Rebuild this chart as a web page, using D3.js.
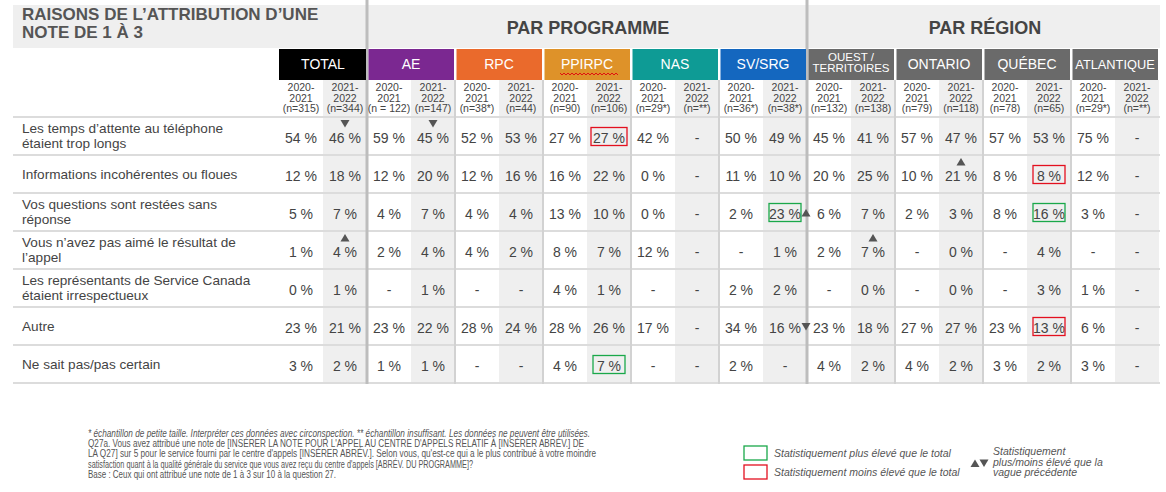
<!DOCTYPE html>
<html><head><meta charset="utf-8">
<script src="https://cdn.jsdelivr.net/npm/d3@7"></script>
<style>
body{margin:0;background:#fff;}
svg{display:block;font-family:"Liberation Sans",Arial,sans-serif;}
</style></head>
<body><svg id="c" width="1166" height="492"></svg>
<script>
const title = ["RAISONS DE L\u2019ATTRIBUTION D\u2019UNE", "NOTE DE 1 À 3"];
const sections = ["PAR PROGRAMME", "PAR RÉGION"];
const groups = ["TOTAL","AE","RPC","PPIRPC","NAS","SV/SRG","OUEST / TERRITOIRES","ONTARIO","QUÉBEC","ATLANTIQUE"];
const groupColors = ["#000000","#7b2891","#ea6a2c","#de9229","#0e9b95","#1467bf","#6a6a6a","#6a6a6a","#6a6a6a","#6a6a6a"];
const years = ["2020-2021","2021-2022"];
const sampleSizes = ["(n=315)","(n=344)","(n = 122)","(n=147)","(n=38*)","(n=44)","(n=90)","(n=106)","(n=29*)","(n=**)",
                     "(n=36*)","(n=38*)","(n=132)","(n=138)","(n=79)","(n=118)","(n=78)","(n=65)","(n=29*)","(n=**)"];
const reasons = [
  ["Les temps d\u2019attente au téléphone","étaient trop longs"],
  ["Informations incohérentes ou floues"],
  ["Vos questions sont restées sans","réponse"],
  ["Vous n\u2019avez pas aimé le résultat de","l\u2019appel"],
  ["Les représentants de Service Canada","étaient irrespectueux"],
  ["Autre"],
  ["Ne sait pas/pas certain"]
];
const row0 = [54,46,59,45,52,53,27,27,42,null,50,49,45,41,57,47,57,53,75,null];
const row1 = [12,18,12,20,12,16,16,22,0,null,11,10,20,25,10,21,8,8,12,null];
const row2 = [5,7,4,7,4,4,13,10,0,null,2,23,6,7,2,3,8,16,3,null];
const row3 = [1,4,2,4,4,2,8,7,12,null,null,1,2,7,null,0,null,4,null,null];
const row4 = [0,1,null,1,null,null,4,1,null,null,2,2,null,0,null,0,null,3,1,null];
const row5 = [23,21,23,22,28,24,28,26,17,null,34,16,23,18,27,27,23,13,6,null];
const row6 = [3,2,1,1,null,null,4,7,null,null,2,null,4,2,4,2,3,2,3,null];
const values = [row0,row1,row2,row3,row4,row5,row6];
// wave-over-wave changes: [row, column, direction, placement]
const changes = [[0,1,"down","above"],[3,1,"up","above"],[0,3,"down","above"],[2,11,"up","right"],
                 [5,11,"down","right"],[1,15,"up","above"],[3,13,"up","above"]];
// vs total: [row, column, type]
const highlights = [[0,7,"low"],[1,17,"low"],[5,17,"low"],[2,11,"high"],[2,17,"high"],[6,7,"high"]];
const footnotes = [
  "* échantillon de petite taille. Interpréter ces données avec circonspection. ** échantillon insuffisant. Les données ne peuvent être utilisées.",
  "Q27a. Vous avez attribué une note de [INSÉRER LA NOTE POUR L'APPEL AU CENTRE D'APPELS RELATIF À [INSÉRER ABRÉV.] DE",
  "LA Q27] sur 5 pour le service fourni par le centre d'appels [INSÉRER ABRÉV.]. Selon vous, qu'est-ce qui a le plus contribué à votre moindre",
  "satisfaction quant à la qualité générale du service que vous avez reçu du centre d'appels [ABRÉV. DU PROGRAMME]?",
  "Base : Ceux qui ont attribué une note de 1 à 3 sur 10 à la question 27."
];
const footWidths = [502,496,508,385,248];
const legendItems = ["Statistiquement plus élevé que le total","Statistiquement moins élevé que le total"];
const legendArrows = ["Statistiquement","plus/moins élevé que la","vague précédente"];

const svg = d3.select("#c");
const X0 = 279, X1 = 1159, LEFT = 13;
const gx = d3.scaleBand().domain(d3.range(groups.length)).range([X0, X1]);
const cx = d3.scaleBand().domain(d3.range(groups.length*2)).range([X0, X1]);
const ry = d3.scaleBand().domain(d3.range(reasons.length)).range([117, 383]);
const TOP = 5, HEAD = 49, SUB = 80, BOT = 383;
const txt = "#444";

// title band
svg.append("rect").attr("x",LEFT).attr("y",TOP).attr("width",X1-LEFT+1).attr("height",HEAD-TOP-1).attr("fill","#efefef");
svg.append("g").selectAll("text").data(title).join("text")
  .attr("x",22).attr("y",(d,i)=>20+i*18).attr("font-size",17).attr("font-weight","bold").attr("fill","#555").text(d=>d);
const secCenters = [(gx(1)+gx(6))/2+1, (gx(6)+X1)/2+2];
svg.append("g").selectAll("text").data(sections).join("text")
  .attr("x",(d,i)=>secCenters[i]).attr("y",34).attr("text-anchor","middle")
  .attr("font-size",18).attr("font-weight","bold").attr("fill","#444").text(d=>d);

// shaded second-year columns
svg.append("g").selectAll("rect").data(d3.range(groups.length)).join("rect")
  .attr("x",i=>cx(i*2+1)).attr("y",SUB).attr("width",cx.bandwidth()).attr("height",BOT-SUB)
  .attr("fill","#efefef");

// horizontal row lines
svg.append("g").selectAll("line").data(d3.range(reasons.length+1)).join("line")
  .attr("x1",LEFT).attr("x2",X1+1)
  .attr("y1",i=>i<reasons.length?ry(i):BOT).attr("y2",i=>i<reasons.length?ry(i):BOT)
  .attr("stroke","#dcdcdc").attr("stroke-width",2);

// vertical group separators
svg.append("g").selectAll("line").data(d3.range(1,groups.length)).join("line")
  .attr("x1",i=>gx(i)).attr("x2",i=>gx(i))
  .attr("y1",i=>(i===1||i===6)?TOP-5:SUB).attr("y2",BOT+1)
  .attr("stroke",i=>(i===1||i===6)?"#bdbdbd":"#d2d2d2")
  .attr("stroke-width",i=>(i===1||i===6)?3:2);

// group header boxes
const hg = svg.append("g").selectAll("g").data(groups).join("g");
hg.append("rect").attr("x",(d,i)=>gx(i)+(i===0?0:1.5)).attr("y",HEAD)
  .attr("width",(d,i)=>gx.bandwidth()-(i===0?1:2.5)).attr("height",SUB-HEAD)
  .attr("fill",(d,i)=>groupColors[i]);
hg.each(function(d,i){
  const g = d3.select(this);
  const c = gx(i)+gx.bandwidth()/2;
  if(d.includes(" / ")){
    const parts = d.split(" / ");
    g.append("text").attr("x",c).attr("y",61).attr("text-anchor","middle").attr("font-size",11.5).attr("fill","#fff").text(parts[0]+" /");
    g.append("text").attr("x",c).attr("y",72).attr("text-anchor","middle").attr("font-size",11.5).attr("fill","#fff").text(parts[1]);
  } else {
    g.append("text").attr("x",c).attr("y",69).attr("text-anchor","middle")
      .attr("font-size",d.length>8?12.8:14).attr("fill","#fff").text(d);
  }
  if(d==="PPIRPC"){
    const p = d3.path(); const x0 = c-27, x1 = c+31;
    p.moveTo(x0,73);
    for(let x=x0, k=0; x<x1; x+=2, k++){ p.lineTo(x+2, k%2? 73 : 75); }
    g.append("path").attr("d",p.toString()).attr("fill","none").attr("stroke","#e01010").attr("stroke-width",1);
  }
});

// year / sample subheaders
const sh = svg.append("g").selectAll("g").data(d3.range(groups.length*2)).join("g");
sh.each(function(j){
  const g = d3.select(this);
  const c = cx(j)+cx.bandwidth()/2;
  const yr = years[j%2].split("-");
  [yr[0]+"-", yr[1], sampleSizes[j]].forEach((t,k)=>{
    g.append("text").attr("x",c).attr("y",91+k*10.5).attr("text-anchor","middle")
      .attr("font-size",10.5).attr("fill",txt).text(t);
  });
});

// row labels
const rl = svg.append("g").selectAll("g").data(reasons).join("g");
rl.each(function(lines,i){
  const mid = ry(i)+ry.bandwidth()/2;
  const n = lines.length;
  d3.select(this).selectAll("text").data(lines).join("text")
    .attr("x",22).attr("y",(d,k)=>mid+4.5+(k-(n-1)/2)*15)
    .attr("font-size",13.6).attr("fill",txt).text(d=>d);
});

// values
const cells = [];
values.forEach((r,i)=>r.forEach((v,j)=>cells.push({i,j,v})));
svg.append("g").selectAll("text").data(cells).join("text")
  .attr("x",d=>cx(d.j)+cx.bandwidth()/2)
  .attr("y",d=>ry(d.i)+ry.bandwidth()/2+6.5)
  .attr("text-anchor","middle").attr("font-size",14).attr("fill",txt)
  .text(d=>d.v===null?"-":d.v+" %");

// highlight boxes
svg.append("g").selectAll("rect").data(highlights).join("rect")
  .attr("x",d=>cx(d[1])+cx.bandwidth()/2-16-(d[1]===7&&d[0]===0?2:0))
  .attr("y",d=>ry(d[0])+ry.bandwidth()/2-8.5)
  .attr("width",d=>32+(d[1]===7&&d[0]===0?4:0)).attr("height",18)
  .attr("fill","none").attr("stroke",d=>d[2]==="high"?"#1aa84a":"#e3101f").attr("stroke-width",1.3);

// change triangles
const tri = (x,y,dir)=>{
  const p = d3.path();
  if(dir==="down"){ p.moveTo(x-4.5,y-3.5); p.lineTo(x+4.5,y-3.5); p.lineTo(x,y+4); }
  else { p.moveTo(x-4.5,y+4); p.lineTo(x+4.5,y+4); p.lineTo(x,y-3.5); }
  p.closePath(); return p.toString();
};
svg.append("g").selectAll("path").data(changes).join("path")
  .attr("d",d=>{
    const c = cx(d[1])+cx.bandwidth()/2, m = ry(d[0])+ry.bandwidth()/2;
    return d[3]==="above" ? tri(c, m-12.5, d[2]) : tri(cx(d[1])+cx.bandwidth()-1, m+0.5, d[2]);
  }).attr("fill","#555");

// footnotes
svg.append("g").selectAll("text").data(footnotes).join("text")
  .attr("x",88).attr("y",(d,i)=>437+i*10.2).attr("font-size",10.8).attr("fill","#555")
  .attr("font-style",(d,i)=>i===0?"italic":"normal")
  .attr("textLength",(d,i)=>footWidths[i]).attr("lengthAdjust","spacingAndGlyphs")
  .text(d=>d);

// legend
const lg = svg.append("g");
legendItems.forEach((t,i)=>{
  lg.append("rect").attr("x",744).attr("y",446+i*19).attr("width",23).attr("height",14)
    .attr("fill","none").attr("stroke",i===0?"#1aa84a":"#e3101f").attr("stroke-width",1.3);
  lg.append("text").attr("x",774).attr("y",457+i*19).attr("font-size",10.5).attr("font-style","italic")
    .attr("fill","#555").text(t);
});
lg.append("path").attr("d",tri(975,463,"up")).attr("fill","#555");
lg.append("path").attr("d",tri(984,463,"down")).attr("fill","#555");
lg.selectAll("text.a").data(legendArrows).join("text").attr("class","a")
  .attr("x",993).attr("y",(d,i)=>455+i*10.5).attr("font-size",10.5).attr("font-style","italic")
  .attr("fill","#555").text(d=>d);
</script></body></html>
